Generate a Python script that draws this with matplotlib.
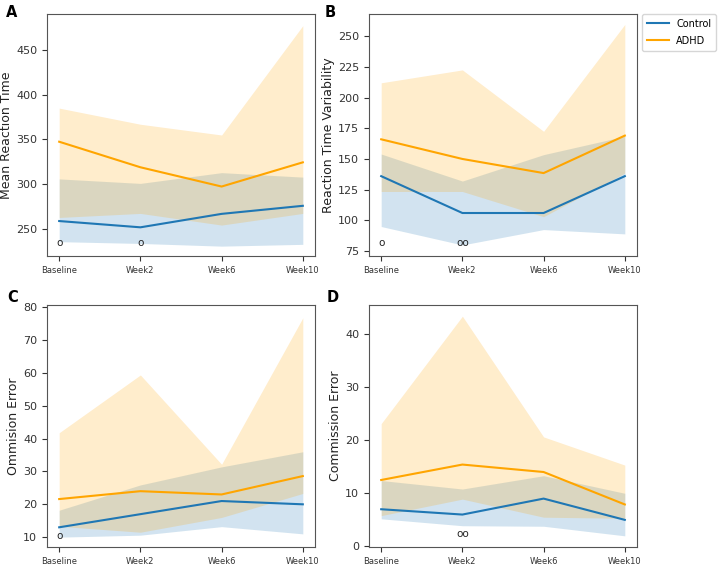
import matplotlib
matplotlib.use('Agg')
import matplotlib.pyplot as plt

weeks = ['Baseline', 'Week2', 'Week6', 'Week10']

# A: mean reaction time
a_ctrl = [259, 252, 267, 276]
a_ctrl_lo = [236, 234, 231, 233]
a_ctrl_hi = [306, 301, 313, 308]
a_adhd = [347.5, 319, 297.5, 324.5]
a_adhd_lo = [263, 267.5, 254.5, 267.5]
a_adhd_hi = [385, 367, 355, 477]

# B: reaction time variability
b_ctrl = [136, 106, 106, 136]
b_ctrl_lo = [95, 80, 92.5, 89]
b_ctrl_hi = [154, 132, 153.5, 168.5]
b_adhd = [166, 150, 138.5, 169]
b_adhd_lo = [123.5, 123.5, 103, 138.5]
b_adhd_hi = [212, 222.5, 172.5, 259.5]

# C: ommision error
c_ctrl = [13, 17, 21, 20]
c_ctrl_lo = [10, 10.6, 13.2, 11]
c_ctrl_hi = [18.2, 25.9, 31.4, 36]
c_adhd = [21.6, 24, 23, 28.6]
c_adhd_lo = [13.3, 11.5, 16, 23.3]
c_adhd_hi = [41.8, 59.4, 32.2, 76.8]

# D: commission error
d_ctrl = [7, 6, 9, 5]
d_ctrl_lo = [5.2, 3.9, 3.8, 2]
d_ctrl_hi = [12.4, 10.8, 13.3, 10]
d_adhd = [12.5, 15.4, 14, 7.9]
d_adhd_lo = [5.8, 8.9, 5.5, 5.3]
d_adhd_hi = [23.1, 43.3, 20.6, 15.3]

panels = [
	('A', 'Mean Reaction Time', a_ctrl, a_ctrl_lo, a_ctrl_hi, a_adhd, a_adhd_lo, a_adhd_hi,
	 (220, 490), [250, 300, 350, 400, 450], [(0, 234, 'o'), (1, 234, 'o')]),
	('B', 'Reaction Time Variability', b_ctrl, b_ctrl_lo, b_ctrl_hi, b_adhd, b_adhd_lo, b_adhd_hi,
	 (71, 268), [75, 100, 125, 150, 175, 200, 225, 250], [(0, 81.5, 'o'), (1, 81.5, 'oo')]),
	('C', 'Ommision Error', c_ctrl, c_ctrl_lo, c_ctrl_hi, c_adhd, c_adhd_lo, c_adhd_hi,
	 (7, 80.7), [10, 20, 30, 40, 50, 60, 70, 80], [(0, 10.5, 'o')]),
	('D', 'Commission Error', d_ctrl, d_ctrl_lo, d_ctrl_hi, d_adhd, d_adhd_lo, d_adhd_hi,
	 (-0.1, 45.4), [0, 10, 20, 30, 40], [(1, 2.3, 'oo')]),
]

blue = '#1f77b4'
orange = '#ffa500'

fig = plt.figure(figsize=(7.22, 5.65), dpi=100)
W, H = 722.0, 565.0
boxes = [(47, 14, 315, 256), (369, 14, 637, 256), (47, 305, 315, 547), (369, 305, 637, 547)]
letter_pos = [(6, 5), (325, 5), (7, 290), (327, 290)]

x = list(range(len(weeks)))
for (letter, ylab, c, clo, chi, ad, alo, ahi, ylim, yt, notes), (x0, y0, x1, y1), (lx, ly) in zip(panels, boxes, letter_pos):
	ax = fig.add_axes([x0 / W, 1 - y1 / H, (x1 - x0) / W, (y1 - y0) / H])
	ax.plot(x, c, color=blue, lw=1.5, label='Control')
	ax.fill_between(x, clo, chi, color=blue, alpha=0.2, lw=0)
	ax.plot(x, ad, color=orange, lw=1.5, label='ADHD')
	ax.fill_between(x, alo, ahi, color=orange, alpha=0.2, lw=0)
	for xi, yi, s in notes:
		ax.text(xi, yi, s, ha='center', va='center', fontsize=7.5, color='#222222')
	ax.set_xlim(-0.15, 3.15)
	ax.set_ylim(*ylim)
	ax.set_yticks(yt)
	ax.set_xticks(x)
	ax.set_xticklabels(weeks, fontsize=6)
	ax.tick_params(axis='y', labelsize=8, colors='#333333')
	ax.tick_params(axis='x', colors='#333333')
	ax.set_ylabel(ylab, fontsize=9, color='#222222', labelpad=2)
	for sp in ax.spines.values():
		sp.set_color('#555555')
	fig.text(lx / W, 1 - ly / H, letter, fontsize=10.5, fontweight='bold', va='top', ha='left')
	if letter == 'B':
		ax.legend(loc='upper left', bbox_to_anchor=(1.02, 1.0), fontsize=7, borderaxespad=0,
			handlelength=2.2, borderpad=0.5, labelspacing=0.7)

fig.savefig('out.png', dpi=100)
